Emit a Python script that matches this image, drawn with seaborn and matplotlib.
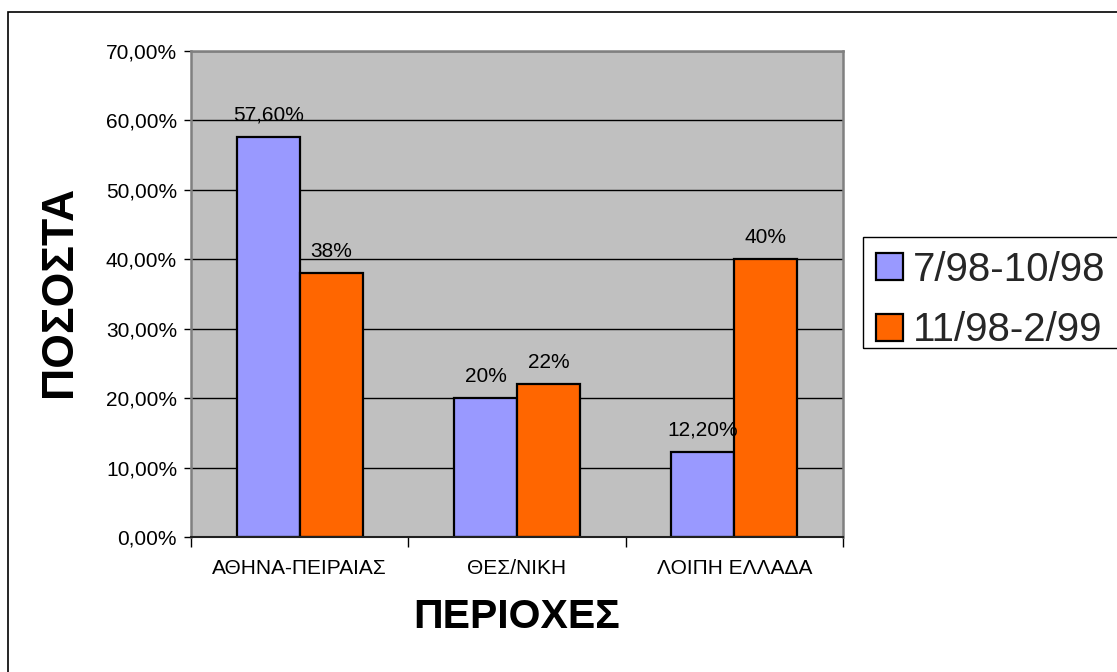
import matplotlib
matplotlib.use("Agg")
import matplotlib.pyplot as plt
import matplotlib.patches as mpatches
from matplotlib.ticker import FuncFormatter, MultipleLocator, FixedLocator
import seaborn as sns
import pandas as pd

# Regions and survey periods
regions = ["ΑΘΗΝΑ-ΠΕΙΡΑΙΑΣ", "ΘΕΣ/ΝΙΚΗ", "ΛΟΙΠΗ ΕΛΛΑΔΑ"]
periods = ["7/98-10/98", "11/98-2/99"]

# Share per region (fraction of total)
share_p1 = [0.576, 0.20, 0.122]
share_p2 = [0.38, 0.22, 0.40]

# Value labels as printed above the bars
labels_p1 = ["57,60%", "20%", "12,20%"]
labels_p2 = ["38%", "22%", "40%"]

colors = ["#9999FF", "#FF6600"]

df = pd.DataFrame({
    "region": regions * 2,
    "period": [periods[0]] * 3 + [periods[1]] * 3,
    "share": share_p1 + share_p2,
})

sns.set_theme(style="white")
plt.rcParams["font.family"] = ["Liberation Sans", "DejaVu Sans"]

W, H = 1117, 672
fig = plt.figure(figsize=(W / 100, H / 100), dpi=100)
fig.patch.set_facecolor("white")

ax = fig.add_axes([191 / W, 1 - 537 / H, (843 - 191) / W, (537 - 51) / H])
ax.set_facecolor("#C0C0C0")
ax.set_axisbelow(True)
ax.yaxis.grid(True, color="black", linewidth=1.0)
ax.xaxis.grid(False)

sns.barplot(data=df, x="region", y="share", hue="period", order=regions,
            hue_order=periods, palette=colors, saturation=1, width=0.58,
            edgecolor="black", linewidth=1.6, ax=ax)

ax.set_xlim(-0.5, 2.5)
ax.set_ylim(0, 0.70)
ax.yaxis.set_major_locator(MultipleLocator(0.10))
ax.yaxis.set_major_formatter(
    FuncFormatter(lambda v, _: f"{v * 100:.2f}".replace(".", ",") + "%"))
ax.tick_params(axis="y", which="major", direction="out", length=5, width=1,
               color="black", labelsize=15, pad=5, left=True)
ax.tick_params(axis="x", which="major", length=0, labelsize=15, pad=16)
ax.xaxis.set_minor_locator(FixedLocator([-0.5, 0.5, 1.5, 2.5]))
ax.tick_params(axis="x", which="minor", direction="out", length=7, width=1,
               color="black", bottom=True)
for lab in ax.get_xticklabels() + ax.get_yticklabels():
    lab.set_color("black")

ax.set_xlabel("")
ax.set_ylabel("")

for side in ["left", "top", "right"]:
    ax.spines[side].set_color("#808080")
    ax.spines[side].set_linewidth(1.8)
ax.spines["bottom"].set_color("#202020")
ax.spines["bottom"].set_linewidth(1.5)

for container, labs in zip(ax.containers, [labels_p1, labels_p2]):
    ax.bar_label(container, labels=labs, padding=9, fontsize=15, color="black")

# Legend outside the plot area; its box runs off the right edge
handles, _ = ax.get_legend_handles_labels()
if ax.get_legend() is not None:
    ax.get_legend().remove()
leg = fig.legend(handles, periods, loc="upper left",
                 bbox_to_anchor=(863 / W, 1 - 238 / H),
                 bbox_transform=fig.transFigure, fontsize=29, frameon=False,
                 handlelength=0.68, handleheight=0.64, handletextpad=0.25,
                 labelspacing=0.56, borderpad=0.32, borderaxespad=0)
for h in leg.legend_handles:
    h.set_edgecolor("black")
    h.set_linewidth(1.6)

legend_box = mpatches.Rectangle((863 / W, 1 - 348 / H), 0.5, (348 - 237) / H,
                                transform=fig.transFigure, fill=False,
                                edgecolor="black", linewidth=1.0, clip_on=False)
fig.patches.append(legend_box)

fig.text(60 / W, 1 - 291 / H, "ΠΟΣΟΣΤΑ", rotation=90, ha="center",
         va="center", fontsize=32, fontweight="bold", color="black")
fig.text(517 / W, 1 - 617 / H, "ΠΕΡΙΟΧΕΣ", ha="center", va="center",
         fontsize=29.5, fontweight="bold", color="black")

# Outer chart frame
frame = mpatches.Rectangle((8 / W, -0.5), 1.5, 0.5 + (1 - 12 / H),
                           transform=fig.transFigure, fill=False,
                           edgecolor="black", linewidth=1.2, clip_on=False)
fig.patches.append(frame)

fig.savefig("out.png", dpi=100)
